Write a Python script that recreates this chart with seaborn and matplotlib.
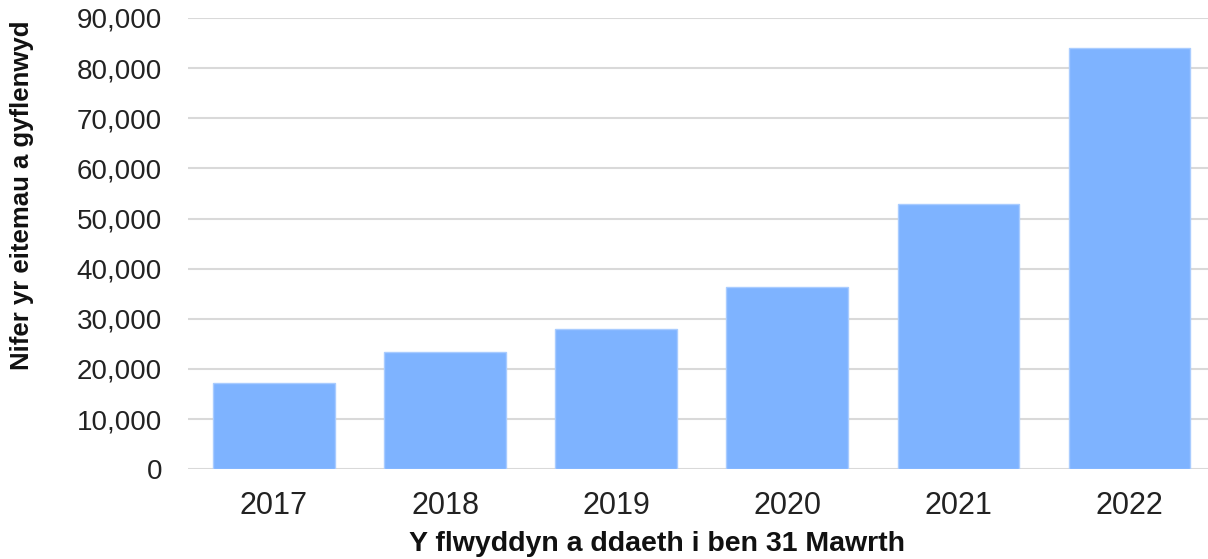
import matplotlib.pyplot as plt
import seaborn as sns
import pandas as pd
from matplotlib.ticker import FuncFormatter

years = ['2017', '2018', '2019', '2020', '2021', '2022']
items = [17300, 23400, 27900, 36400, 52900, 84000]

sns.set_theme(style='white')
plt.rcParams['font.family'] = ['Liberation Sans', 'DejaVu Sans']

df = pd.DataFrame({'year': years, 'items': items})

fig = plt.figure(figsize=(12.08, 5.59), dpi=100)
ax = fig.add_axes([0.156, 0.1605, 0.844, 0.8075])

sns.barplot(data=df, x='year', y='items', color='#7eb3ff', saturation=1,
            width=0.71, edgecolor='#a9ccff', linewidth=1, ax=ax, zorder=3)

ax.set_ylim(0, 90000)
ax.set_xlim(-0.5, 5.46)
ax.set_yticks(range(0, 90001, 10000))
ax.yaxis.set_major_formatter(FuncFormatter(lambda v, p: f'{int(v):,}'))
ax.grid(axis='y', color='#d9d9d9', linewidth=1.5, zorder=0)
ax.set_axisbelow(True)
for s in ax.spines.values():
    s.set_visible(False)
ax.tick_params(axis='both', length=0, colors='#222222')
ax.tick_params(axis='y', pad=19, labelsize=20)
ax.tick_params(axis='x', pad=15.5, labelsize=22)

# axis titles placed on the figure to match the reference offsets
ax.set_xlabel('')
ax.set_ylabel('')
fig.text(0.5435, 0.0143, 'Y flwyddyn a ddaeth i ben 31 Mawrth', fontsize=20.5,
         fontweight='bold', color='#111111', ha='center', va='baseline')
fig.text(0.0186, 0.651, 'Nifer yr eitemau a gyflenwyd', fontsize=18.5,
         fontweight='bold', color='#111111', ha='center', va='center',
         rotation=90)

fig.savefig('out.png', dpi=100)
